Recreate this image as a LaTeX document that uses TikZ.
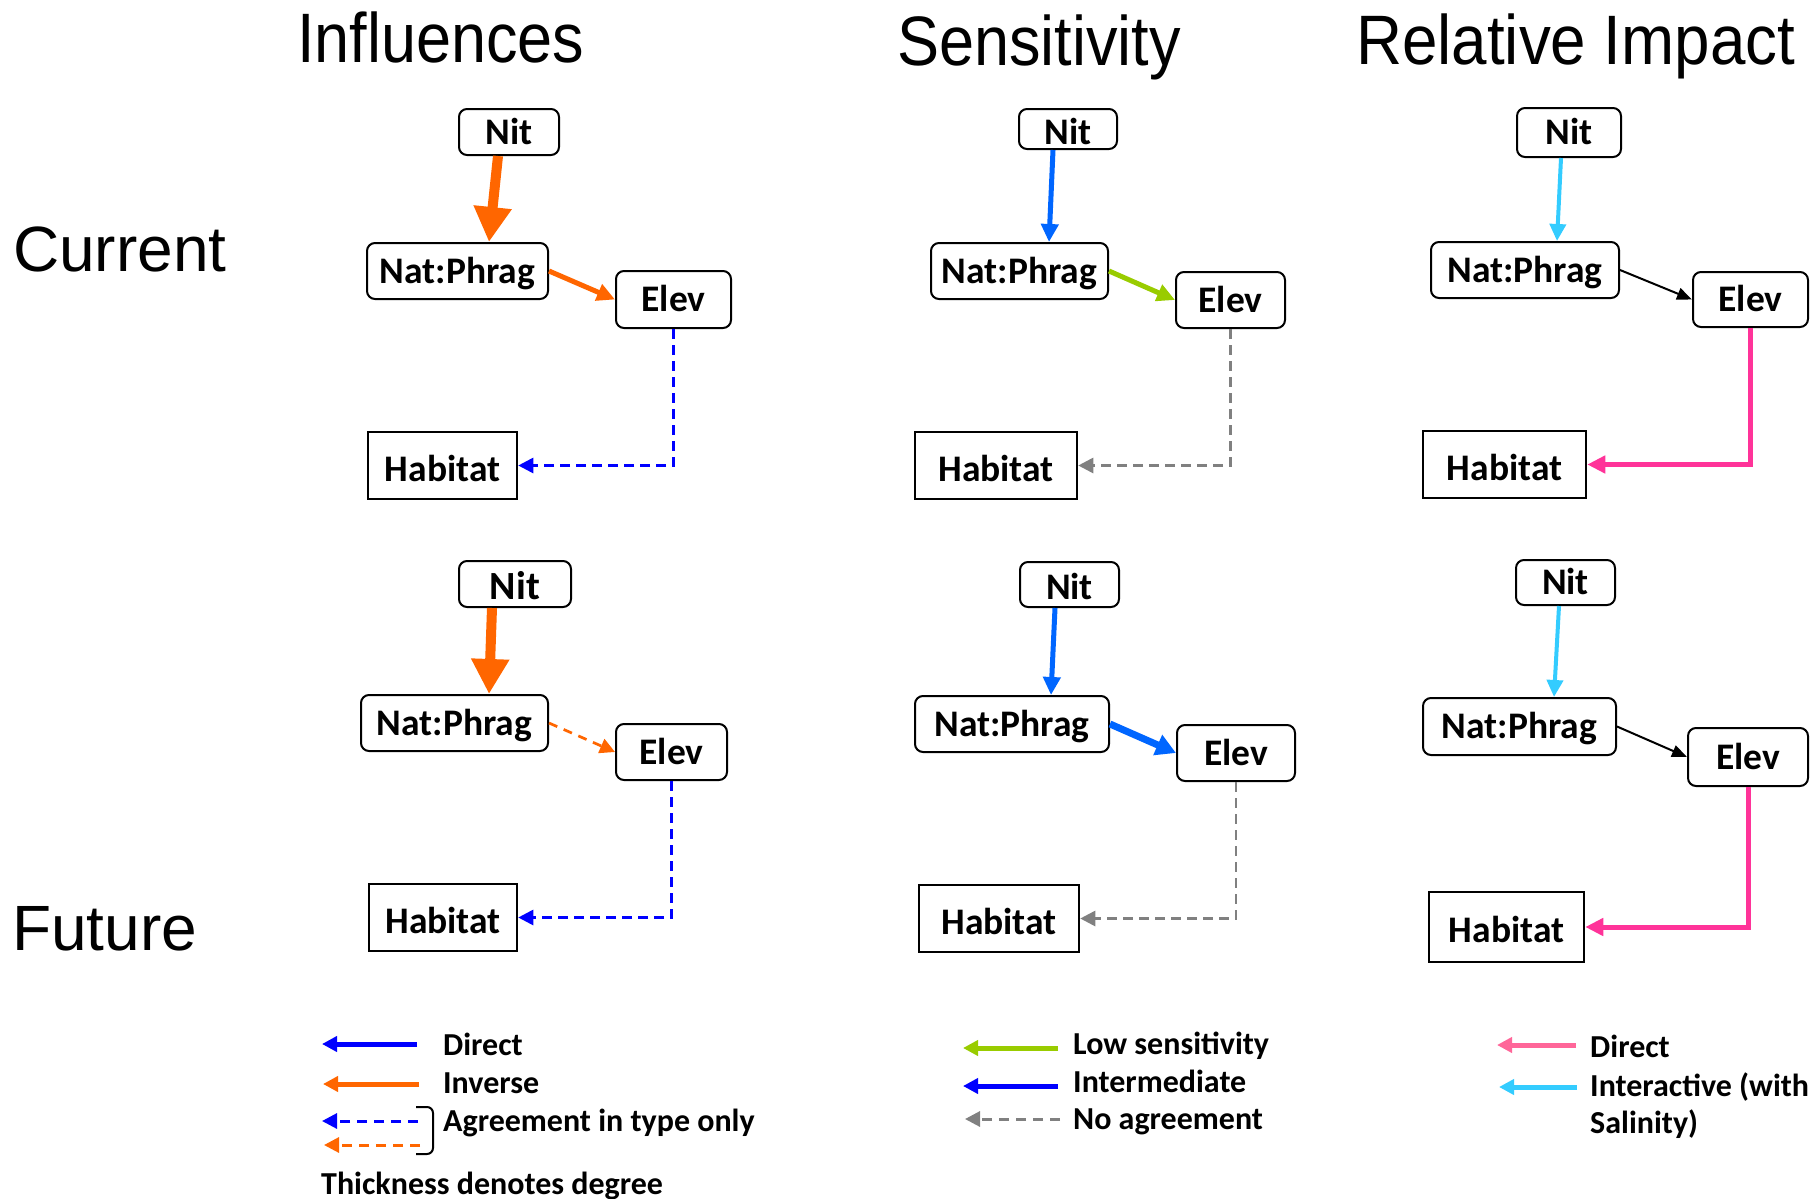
\documentclass[tikz,border=0pt]{standalone}
\usepackage{fontspec}
\usepackage{graphicx}
\usetikzlibrary{arrows.meta}
\newfontfamily\calb{Carlito}
\newfontfamily\arialf{Liberation Sans}
\newcommand\bxfont{\calb\bfseries\fontsize{37.5}{42}\selectfont}
\newcommand\lgfont{\calb\bfseries\fontsize{32}{36}\selectfont}
\newcommand\hdfont{\arialf\fontsize{70}{80}\selectfont}
\newcommand\rowfont{\arialf\fontsize{64}{72}\selectfont}

\definecolor{orng}{HTML}{FF6600}
\definecolor{dblue}{HTML}{0000FF}
\definecolor{sblue}{HTML}{0066FF}
\definecolor{lgreen}{HTML}{99CC00}
\definecolor{cyanb}{HTML}{33CCFF}
\definecolor{pinkd}{HTML}{FF3399}
\definecolor{pinkl}{HTML}{FF6699}
\definecolor{grayd}{HTML}{808080}

\tikzset{
  rbox/.style={draw, line width=2pt, rounded corners=8pt, inner sep=0pt, font=\bxfont,
               text height=24pt, text depth=0pt},
  sbox/.style={draw, line width=2.5pt, inner sep=0pt, font=\bxfont,
               text height=31pt, text depth=0pt},
  lowtxt/.style={text height=30pt},
  bigarr/.style={line width=10pt, -{Triangle[length=35pt,width=36pt]}},
  midarr/.style={line width=5pt, -{Triangle[length=18pt,width=17pt]}},
  widearr/.style={line width=7pt, -{Triangle[length=20pt,width=21pt]}},
  thinarr/.style={line width=2pt, -{Triangle[length=15pt,width=12pt]}},
  dsharr/.style={line width=2.7pt, dash pattern=on 10pt off 6pt, -{Triangle[length=15pt,width=15pt]}},
  lgarr/.style={line width=5pt, -{Triangle[length=15pt,width=15pt]}},
  lgdsh/.style={line width=3pt, dash pattern=on 10pt off 7pt, -{Triangle[length=15pt,width=15pt]}},
  lgtxt/.style={anchor=base west, inner sep=0pt, font=\lgfont},
  heading/.style={anchor=base west, inner sep=0pt},
}

\begin{document}
\begin{tikzpicture}[x=1pt,y=-1pt]
\useasboundingbox[fill=white] (0,0) rectangle (1810,1199);

% column and row headings
\node[heading, font=\hdfont] (hInf) at (297,63) {\scalebox{0.9}[1]{Influences}};
\node[heading, font=\hdfont] (hSen) at (897,66) {\scalebox{0.9}[1]{Sensitivity}};
\node[heading, font=\hdfont] (hRel) at (1356,64) {\scalebox{0.91}[1]{Relative Impact}};
\node[heading, font=\rowfont] (hCur) at (13,271) {Current};
\node[heading, font=\rowfont] (hFut) at (12,950) {Future};

% ---------- Influences, current ----------
\node[rbox, minimum width=100, minimum height=46] (nit1) at (509,132) {Nit};
\node[rbox, minimum width=181, minimum height=56] (np1) at (457.5,271) {Nat:Phrag};
\node[rbox, minimum width=115, minimum height=57] (el1) at (673.5,299.5) {Elev};
\node[sbox, minimum width=149, minimum height=67] (hb1) at (442.5,465.5) {Habitat};
\draw[bigarr, orng] ([xshift=-11pt]nit1.south) -- ([xshift=31.5pt]np1.north);
\draw[midarr, orng] (np1.east) -- (el1.west);
\draw[dsharr, dblue] (el1.south) |- (hb1.east);

% ---------- Sensitivity, current ----------
\node[rbox, lowtxt, minimum width=98, minimum height=40] (nit2) at (1068,129) {Nit};
\node[rbox, minimum width=177, minimum height=56] (np2) at (1019.5,271) {Nat:Phrag};
\node[rbox, minimum width=109, minimum height=56] (el2) at (1230.5,300) {Elev};
\node[sbox, minimum width=162, minimum height=67] (hb2) at (996,465.5) {Habitat};
\draw[midarr, sblue] ([xshift=-15pt]nit2.south) -- ([xshift=29.5pt]np2.north);
\draw[midarr, lgreen] (np2.east) -- (el2.west);
\draw[dsharr, grayd] (el2.south) |- (hb2.east);

% ---------- Relative impact, current ----------
\node[rbox, minimum width=104, minimum height=49] (nit3) at (1569,132.5) {Nit};
\node[rbox, minimum width=188, minimum height=56] (np3) at (1525,270) {Nat:Phrag};
\node[rbox, minimum width=115, minimum height=55] (el3) at (1750.5,299.5) {Elev};
\node[sbox, minimum width=163, minimum height=67] (hb3) at (1504.5,464.5) {Habitat};
\draw[line width=4pt, cyanb, -{Triangle[length=17pt,width=16pt]}] ([xshift=-8pt]nit3.south) -- ([xshift=32pt]np3.north);
\draw[thinarr, black] (np3.east) -- (el3.west);
\draw[midarr, pinkd] (el3.south) |- (hb3.east);

% ---------- Influences, future ----------
\node[rbox, lowtxt, minimum width=112, minimum height=46, font=\calb\bfseries\fontsize{40}{44}\selectfont] (nit4) at (515,584) {Nit};
\node[rbox, minimum width=187, minimum height=56] (np4) at (454.5,723) {Nat:Phrag};
\node[rbox, minimum width=111, minimum height=56] (el4) at (671.5,752) {Elev};
\node[sbox, minimum width=148, minimum height=67] (hb4) at (443,917.5) {Habitat};
\draw[bigarr, orng] ([xshift=-23pt]nit4.south) -- ([xshift=34.5pt]np4.north);
\draw[dsharr, orng, dash pattern=on 9pt off 7pt] (np4.east) -- (el4.west);
\draw[dsharr, dblue] (el4.south) |- (hb4.east);

% ---------- Sensitivity, future ----------
\node[rbox, lowtxt, minimum width=99, minimum height=45] (nit5) at (1069.5,584.5) {Nit};
\node[rbox, minimum width=194, minimum height=56] (np5) at (1012,724) {Nat:Phrag};
\node[rbox, minimum width=118, minimum height=56] (el5) at (1236,753) {Elev};
\node[sbox, minimum width=160, minimum height=67] (hb5) at (999,918.5) {Habitat};
\draw[midarr, sblue] ([xshift=-14.5pt]nit5.south) -- ([xshift=39pt]np5.north);
\draw[widearr, sblue] (np5.east) -- (el5.west);
\draw[dsharr, grayd] (el5.south) |- (hb5.east);

% ---------- Relative impact, future ----------
\node[rbox, minimum width=99, minimum height=45] (nit6) at (1565.5,582.5) {Nit};
\node[rbox, minimum width=193, minimum height=57] (np6) at (1519.5,726.5) {Nat:Phrag};
\node[rbox, minimum width=120, minimum height=58] (el6) at (1748,757) {Elev};
\node[sbox, minimum width=155, minimum height=70] (hb6) at (1506.5,927) {Habitat};
\draw[line width=4pt, cyanb, -{Triangle[length=17pt,width=16pt]}] ([xshift=-6.5pt]nit6.south) -- ([xshift=34.5pt]np6.north);
\draw[thinarr, black] (np6.east) -- (el6.west);
\draw[midarr, pinkd] (el6.south) |- (hb6.east);

% ---------- legend: influences ----------
\coordinate (l1a) at (417,1044);  \coordinate (l1b) at (322,1044);
\coordinate (l2a) at (419,1084);  \coordinate (l2b) at (323,1084);
\coordinate (l3a) at (418,1121);  \coordinate (l3b) at (322,1121);
\coordinate (l4a) at (420,1145);  \coordinate (l4b) at (324,1145);
\draw[lgarr, dblue] (l1a) -- (l1b);
\draw[lgarr, orng] (l2a) -- (l2b);
\draw[lgdsh, dblue] (l3a) -- (l3b);
\draw[lgdsh, orng] (l4a) -- (l4b);
\draw[line width=2pt, rounded corners=6pt] (416,1107) -| (433,1154) -- (416,1154);
\node[lgtxt] (t1) at (443,1055) {Direct};
\node[lgtxt] (t2) at (443,1093) {Inverse};
\node[lgtxt] (t3) at (443,1131) {Agreement in type only};
\node[lgtxt] (t4) at (321,1194) {Thickness denotes degree};

% ---------- legend: sensitivity ----------
\coordinate (m1a) at (1058,1048); \coordinate (m1b) at (963,1048);
\coordinate (m2a) at (1058,1086); \coordinate (m2b) at (963,1086);
\coordinate (m3a) at (1060,1119); \coordinate (m3b) at (965,1119);
\draw[lgarr, lgreen] (m1a) -- (m1b);
\draw[lgarr, dblue] (m2a) -- (m2b);
\draw[lgdsh, grayd] (m3a) -- (m3b);
\node[lgtxt] (u1) at (1073,1054) {Low sensitivity};
\node[lgtxt] (u2) at (1073,1092) {Intermediate};
\node[lgtxt] (u3) at (1073,1129) {No agreement};

% ---------- legend: relative impact ----------
\coordinate (r1a) at (1576,1045); \coordinate (r1b) at (1497,1045);
\coordinate (r2a) at (1577,1087); \coordinate (r2b) at (1499,1087);
\draw[lgarr, pinkl] (r1a) -- (r1b);
\draw[lgarr, cyanb] (r2a) -- (r2b);
\node[lgtxt] (v1) at (1590,1057) {Direct};
\node[lgtxt] (v2) at (1590,1096) {Interactive (with};
\node[lgtxt] (v3) at (1590,1133) {Salinity)};
\end{tikzpicture}
\end{document}
